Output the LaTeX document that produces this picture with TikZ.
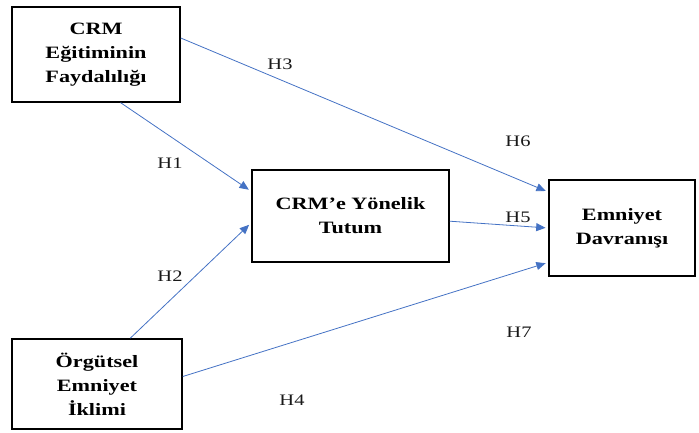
\documentclass[tikz,border=0pt]{standalone}
\usepackage{fontspec}
\setmainfont{Liberation Serif}[FakeStretch=1.28]
\usepackage{tikz}
\usetikzlibrary{arrows.meta, positioning}
\definecolor{linkcolor}{RGB}{68,114,196}
\tikzset{
  construct/.style={draw, line width=1.2pt, align=center, inner sep=0pt,
                    font=\fontsize{13}{18}\selectfont\bfseries},
  hyparrow/.style={-{Triangle[length=7pt, width=6pt]}, draw=linkcolor,
                   line width=0.6pt, shorten >=2pt},
  hyplabel/.style={font=\fontsize{12}{14}\selectfont, text=black!90},
}

\begin{document}
\begin{tikzpicture}[x=0.75pt, y=-0.75pt]
  \useasboundingbox (0,0) rectangle (699,432);

  \node[construct, minimum width=126pt, minimum height=71pt]
    (fayda) at (96,54.5) {CRM\\Eğitiminin\\Faydalılığı};

  \node[construct, minimum width=148pt, minimum height=69pt]
    (tutum) at (350.5,216) {CRM’e Yönelik\\Tutum};

  \node[construct, minimum width=109.5pt, minimum height=72pt]
    (davranis) at (622,228) {Emniyet\\Davranışı};

  \node[construct, minimum width=127.5pt, minimum height=67.5pt]
    (iklim) at (97,384) {Örgütsel\\Emniyet\\İklimi};

  % Hypothesis paths
  \draw[hyparrow] (fayda.-63) -- (tutum.166);
  \draw[hyparrow] (iklim.54) -- (tutum.184);
  \draw[hyparrow] (fayda.11) -- (davranis.154);
  \draw[hyparrow] (tutum.-3) -- (davranis.180);
  \draw[hyparrow] (iklim.5) -- (davranis.205);

  % Labels
  \node[hyplabel] (h1) at (170,163) {H1};
  \node[hyplabel] (h2) at (170,276) {H2};
  \node[hyplabel] (h3) at (280,64) {H3};
  \node[hyplabel] (h4) at (292,400) {H4};
  \node[hyplabel] (h5) at (518,217) {H5};
  \node[hyplabel] (h6) at (518,141) {H6};
  \node[hyplabel] (h7) at (519,332) {H7};
\end{tikzpicture}
\end{document}
